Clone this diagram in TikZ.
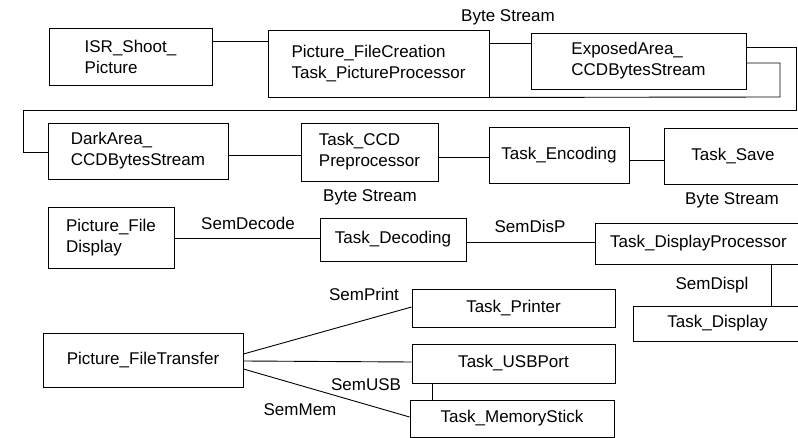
\documentclass[tikz,border=0pt]{standalone}
\usepackage{fontspec}
\setmainfont{Liberation Sans}
\begin{document}
\begin{tikzpicture}[x=1pt,y=-1pt,
  box/.style={draw, line width=0.9pt, inner sep=0pt, align=left, font=\fontsize{17}{21}\selectfont},
  lbl/.style={inner sep=0pt, font=\fontsize{17}{21}\selectfont},
  conn/.style={line width=0.9pt}]
\useasboundingbox (0,0) rectangle (798,438);
% boxes
\node[box, minimum width=163, minimum height=57] (ISR) at (130.5,56.5) {ISR\_Shoot\_\\Picture};
\node[box, minimum width=221, minimum height=67] (PFC) at (378.5,63.5) {Picture\_FileCreation\\Task\_PictureProcessor};
\node[box, minimum width=215, minimum height=56] (EXP) at (638.5,61) {ExposedArea\_\\CCDBytesStream};
\node[box, minimum width=180, minimum height=56] (DARK) at (138,151) {DarkArea\_\\CCDBytesStream};
\node[box, minimum width=137, minimum height=58] (CCD) at (369.5,152) {Task\_CCD\\Preprocessor};
\node[box, minimum width=140, minimum height=56] (ENC) at (559,155) {Task\_Encoding};
\node[box, minimum width=138, minimum height=56] (SAVE) at (733,156) {Task\_Save};
\node[box, minimum width=126, minimum height=61] (PFD) at (111,237.5) {Picture\_File\\Display};
\node[box, minimum width=146, minimum height=43] (DEC) at (393,239.5) {Task\_Decoding};
\node[box, minimum width=207, minimum height=41] (DPROC) at (698.5,243.5) {Task\_DisplayProcessor};
\node[box, minimum width=169, minimum height=35] (DISP) at (717.5,323.5) {Task\_Display};
\node[box, minimum width=200, minimum height=54] (PFT) at (143,360) {Picture\_FileTransfer};
\node[box, minimum width=203, minimum height=38] (PRN) at (513.5,308) {Task\_Printer};
\node[box, minimum width=203, minimum height=39] (USB) at (513.5,363.5) {Task\_USBPort};
\node[box, minimum width=204, minimum height=37] (MEM) at (512,418.5) {Task\_MemoryStick};
% labels
\node[lbl] (lbs1) at (508,17) {Byte Stream};
\node[lbl] (lbs2) at (370,197) {Byte Stream};
\node[lbl] (lbs3) at (732,200) {Byte Stream};
\node[lbl] (lsd) at (248,223) {SemDecode};
\node[lbl] (lsp) at (530,226) {SemDisP};
\node[lbl] (lsi) at (712,285) {SemDispl};
\node[lbl] (lpr) at (364,294) {SemPrint};
\node[lbl] (lusb) at (366,385) {SemUSB};
\node[lbl] (lmem) at (300,410) {SemMem};
% connectors
\draw[conn] (ISR.east |- 0,41) -- (PFC.west |- 0,41);
\draw[conn] (PFC.east |- 0,43) -- (EXP.west |- 0,43);
\draw[conn] (EXP.east |- 0,47) -| (796,110) -| (23,152) -- (DARK.west |- 0,152);
\draw[conn] (EXP.east |- 0,63) -| (780,97) -- (PFC.south east);
\draw[conn] (DARK.east |- 0,155) -- (CCD.west |- 0,155);
\draw[conn] (CCD.east |- 0,157) -- (ENC.west |- 0,157);
\draw[conn] (ENC.east |- 0,160) -- (SAVE.west |- 0,160);
\draw[conn] (PFD.east |- 0,238) -- (DEC.west |- 0,238);
\draw[conn] (DEC.east |- 0,242) -- (DPROC.west |- 0,242);
\draw[conn] (DPROC.south -| 771,0) -- (DISP.north -| 771,0);
\draw[conn] (PFT.east |- 0,354) -- (PRN.west |- 0,307);
\draw[conn] (PFT.east |- 0,361) -- (USB.west |- 0,362);
\draw[conn] (PFT.east |- 0,369) -- (MEM.west |- 0,417);
\draw[conn] (USB.south -| 432,0) -- (MEM.north -| 432,0);
\end{tikzpicture}
\end{document}
